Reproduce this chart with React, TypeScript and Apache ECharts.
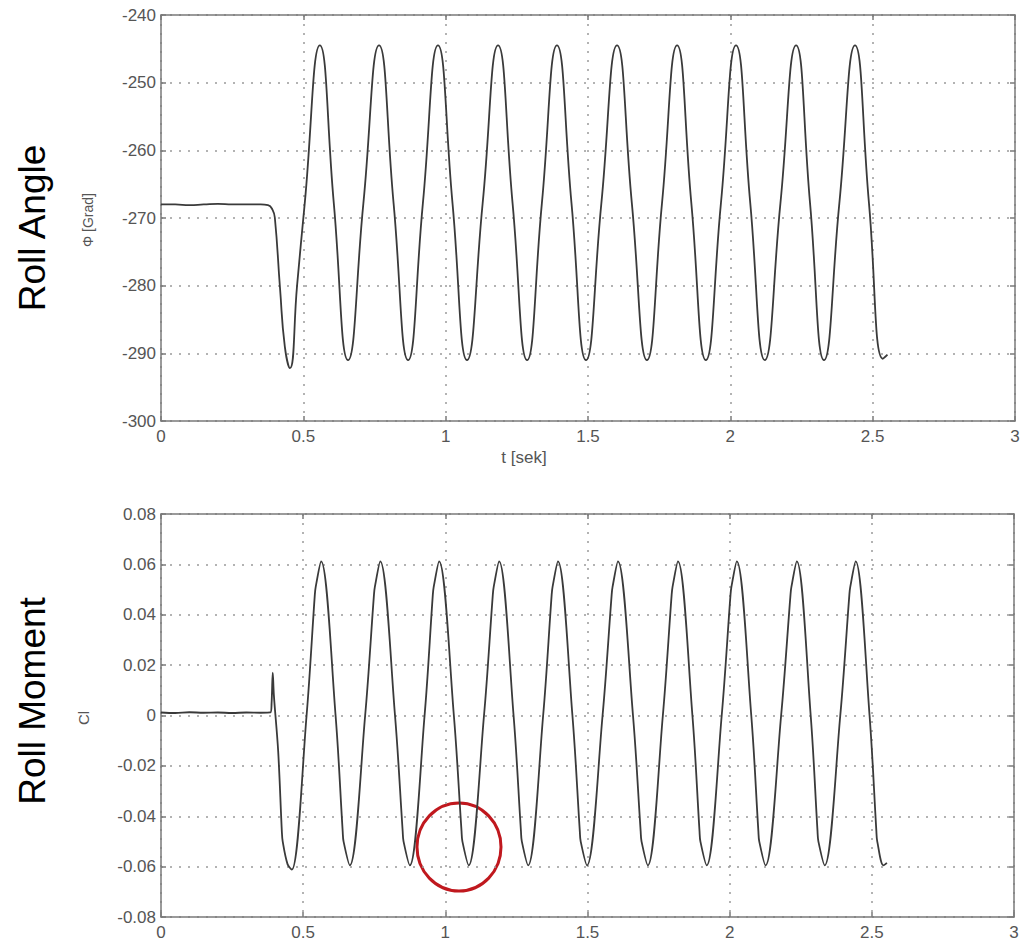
import React, { useEffect, useRef } from "react";
import * as echarts from "echarts";

// ---- Data ----
const timeTicks = { min: 0, max: 3, interval: 0.5 };
const angleAxis = { min: -300, max: -240, interval: 10 };
const momentAxis = { min: -0.08, max: 0.08, interval: 0.02 };

// Roll angle Φ [Grad]: flat part, then oscillation (t, value)
const angleFlat: [number, number][] = [
  [0, -268], [0.05, -268], [0.1, -268.1], [0.15, -268], [0.2, -267.9],
  [0.25, -268], [0.3, -268], [0.35, -268], [0.376, -268.1],
];
const angleOsc: [number, number][] = [
  [0.392, -268.8], [0.4, -270], [0.418, -280.3], [0.435, -289], [0.453, -292.2],
  [0.478, -280], [0.505, -267.8], [0.558, -244.5],
  [0.607, -267.8], [0.657, -291], [0.711, -267.8], [0.766, -244.5],
  [0.817, -267.8], [0.868, -291], [0.92, -267.8], [0.973, -244.5],
  [1.024, -267.8], [1.075, -291], [1.13, -267.8], [1.184, -244.5],
  [1.235, -267.8], [1.286, -291], [1.338, -267.8], [1.391, -244.5],
  [1.442, -267.8], [1.493, -291], [1.547, -267.8], [1.602, -244.5],
  [1.654, -267.8], [1.707, -291], [1.76, -267.8], [1.813, -244.5],
  [1.863, -267.8], [1.914, -291], [1.967, -267.8], [2.02, -244.5],
  [2.07, -267.8], [2.121, -291], [2.176, -267.8], [2.231, -244.5],
  [2.28, -267.8], [2.329, -291], [2.383, -267.8], [2.438, -244.5],
  [2.487, -267.8], [2.536, -290.8], [2.552, -290.2],
];

// Roll moment Cl: flat part, spike, then oscillation (t, value)
const momentFlat: [number, number][] = [
  [0, 0.0012], [0.05, 0.001], [0.1, 0.0013], [0.15, 0.0011], [0.2, 0.0012],
  [0.25, 0.001], [0.3, 0.0012], [0.35, 0.0011], [0.385, 0.0012],
];
const momentOsc: [number, number][] = [
  [0.389, 0.005], [0.393, 0.017], [0.397, 0.008], [0.412, -0.014],
  [0.425, -0.046], [0.428, -0.05], [0.445, -0.059], [0.46, -0.0612],
  [0.512, 0], [0.541, 0.048], [0.544, 0.051], [0.563, 0.0612],
  [0.614, 0], [0.639, -0.046], [0.642, -0.05], [0.664, -0.0595],
  [0.718, 0], [0.749, 0.048], [0.752, 0.051], [0.771, 0.0612],
  [0.823, 0], [0.85, -0.046], [0.853, -0.05], [0.875, -0.0595],
  [0.927, 0], [0.956, 0.048], [0.959, 0.051], [0.978, 0.0612],
  [1.03, 0], [1.057, -0.046], [1.06, -0.05], [1.082, -0.0595],
  [1.136, 0], [1.167, 0.048], [1.17, 0.051], [1.189, 0.0612],
  [1.24, 0], [1.266, -0.046], [1.269, -0.05], [1.291, -0.0595],
  [1.344, 0], [1.374, 0.048], [1.377, 0.051], [1.396, 0.0612],
  [1.447, 0], [1.473, -0.046], [1.476, -0.05], [1.498, -0.0595],
  [1.553, 0], [1.585, 0.048], [1.588, 0.051], [1.607, 0.0612],
  [1.66, 0], [1.687, -0.046], [1.69, -0.05], [1.712, -0.0595],
  [1.765, 0], [1.796, 0.048], [1.799, 0.051], [1.818, 0.0612],
  [1.869, 0], [1.894, -0.046], [1.897, -0.05], [1.919, -0.0595],
  [1.972, 0], [2.003, 0.048], [2.006, 0.051], [2.025, 0.0612],
  [2.076, 0], [2.101, -0.046], [2.104, -0.05], [2.126, -0.0595],
  [2.181, 0], [2.214, 0.048], [2.217, 0.051], [2.236, 0.0612],
  [2.285, 0], [2.309, -0.046], [2.312, -0.05], [2.334, -0.0595],
  [2.389, 0], [2.421, 0.048], [2.424, 0.051], [2.443, 0.0612],
  [2.492, 0], [2.516, -0.046], [2.519, -0.05], [2.541, -0.0595],
  [2.553, -0.0585],
];

const FONT = "'Liberation Sans', Arial, Helvetica, sans-serif";
const FRAME = "#7a7a7a";
const LABEL = "#555";

function xAxes(gridIndex: number) {
  const base = {
    type: "value" as const,
    gridIndex,
    min: timeTicks.min,
    max: timeTicks.max,
    interval: timeTicks.interval,
    axisLine: { show: true, onZero: false, lineStyle: { color: FRAME, width: 1.5 } },
    axisTick: { show: true, inside: true, length: 5, lineStyle: { color: FRAME, width: 1.5 } },
  };
  return [
    {
      ...base,
      position: "bottom",
      axisLabel: { color: LABEL, fontSize: 17, fontFamily: FONT, margin: 7 },
      splitLine: { show: true, lineStyle: { color: "#9a9a9a", width: 1.5, type: [2, 7] } },
    },
    {
      ...base,
      position: "top",
      axisLabel: { show: false },
      splitLine: { show: false },
    },
  ];
}

function yAxes(gridIndex: number, ax: { min: number; max: number; interval: number }, fmt?: (v: number) => string) {
  const base = {
    type: "value" as const,
    gridIndex,
    min: ax.min,
    max: ax.max,
    interval: ax.interval,
    axisLine: { show: true, onZero: false, lineStyle: { color: FRAME, width: 1.5 } },
    axisTick: { show: true, inside: true, length: 5, lineStyle: { color: FRAME, width: 1.5 } },
  };
  return [
    {
      ...base,
      position: "left",
      axisLabel: { color: LABEL, fontSize: 17, fontFamily: FONT, margin: 5, formatter: fmt },
      splitLine: { show: true, lineStyle: { color: "#9a9a9a", width: 1.5, type: [2, 7] } },
    },
    {
      ...base,
      position: "right",
      axisLabel: { show: false },
      splitLine: { show: false },
    },
  ];
}

export default function App() {
  const ref = useRef<HTMLDivElement>(null);
  useEffect(() => {
    document.body.style.margin = "0";
    if (!ref.current) return;
    const chart = echarts.init(ref.current, undefined, { renderer: "svg" });
    const momentFmt = (v: number) => (Math.abs(v) < 1e-9 ? "0" : v.toFixed(2));
    chart.setOption({
      animation: false,
      backgroundColor: "#ffffff",
      grid: [
        { left: 161, top: 15, width: 854, height: 406 },
        { left: 161, top: 514, width: 853, height: 403 },
      ],
      xAxis: [...xAxes(0), ...xAxes(1)],
      yAxis: [...yAxes(0, angleAxis), ...yAxes(1, momentAxis, momentFmt)],
      series: [
        {
          type: "line",
          xAxisIndex: 0,
          yAxisIndex: 0,
          data: [...angleFlat, ...angleOsc],
          smooth: 0.5,
          showSymbol: false,
          lineStyle: { color: "#3a3a3a", width: 1.8 },
        },
        {
          type: "line",
          xAxisIndex: 2,
          yAxisIndex: 2,
          data: [...momentFlat, ...momentOsc],
          smooth: 0.35,
          showSymbol: false,
          lineStyle: { color: "#3a3a3a", width: 1.8 },
        },
      ],
      graphic: [
        {
          type: "text",
          x: 32,
          y: 228,
          rotation: Math.PI / 2,
          style: { text: "Roll Angle", fill: "#000", font: `37px ${FONT}`, align: "center", verticalAlign: "middle" },
        },
        {
          type: "text",
          x: 32,
          y: 701,
          rotation: Math.PI / 2,
          style: { text: "Roll Moment", fill: "#000", font: `37px ${FONT}`, align: "center", verticalAlign: "middle" },
        },
        {
          type: "text",
          x: 88,
          y: 220,
          rotation: Math.PI / 2,
          style: { text: "Φ [Grad]", fill: LABEL, font: `14px ${FONT}`, align: "center", verticalAlign: "middle" },
        },
        {
          type: "text",
          x: 83,
          y: 718,
          rotation: Math.PI / 2,
          style: { text: "Cl", fill: LABEL, font: `15px ${FONT}`, align: "center", verticalAlign: "middle" },
        },
        {
          type: "text",
          x: 524,
          y: 457,
          style: { text: "t [sek]", fill: LABEL, font: `17px ${FONT}`, align: "center", verticalAlign: "middle" },
        },
        {
          type: "ellipse",
          shape: { cx: 459, cy: 847, rx: 42, ry: 44 },
          style: { fill: "none", stroke: "#c0181e", lineWidth: 3 },
        },
      ],
    });
    return () => chart.dispose();
  }, []);
  return <div ref={ref} style={{ width: 1023, height: 942 }} />;
}
